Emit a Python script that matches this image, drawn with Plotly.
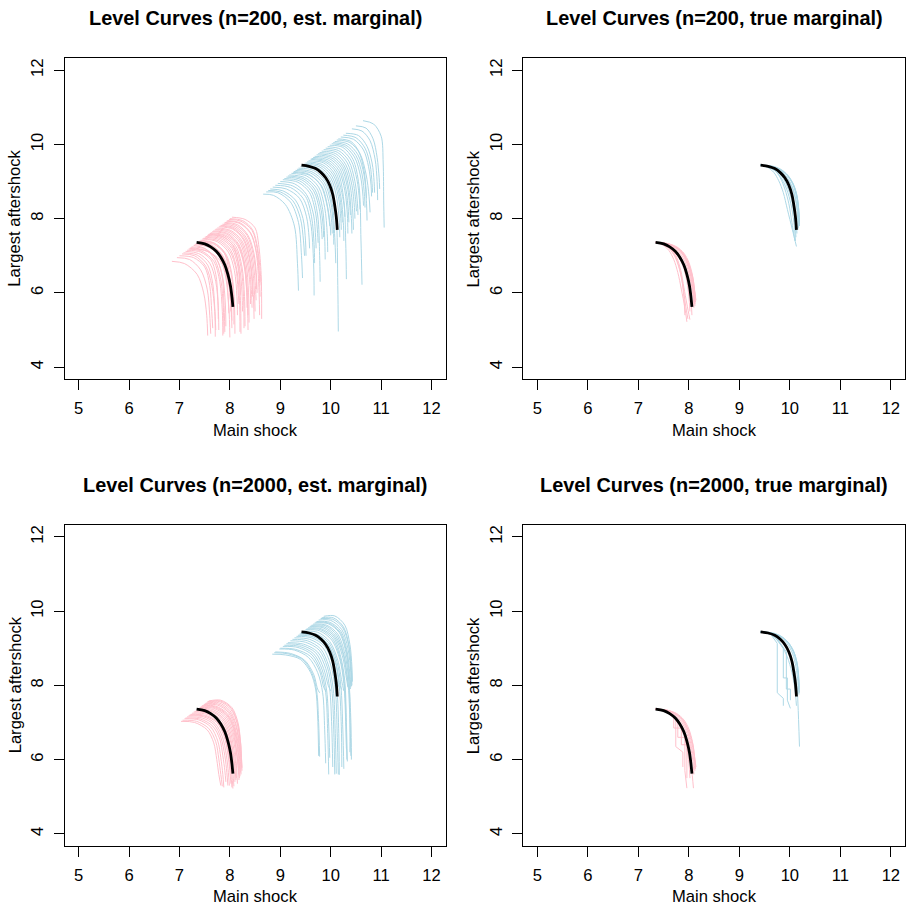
import plotly.graph_objects as go

# ---------------- data ----------------
TICKS_X = [5, 6, 7, 8, 9, 10, 11, 12]
TICKS_Y = [4, 6, 8, 10, 12]
TITLES = ["Level Curves (n=200, est. marginal)", "Level Curves (n=200, true marginal)",
          "Level Curves (n=2000, est. marginal)", "Level Curves (n=2000, true marginal)"]
XLABEL = "Main shock"
YLABEL = "Largest aftershock"

# true level curves (black)
TRUE_PINK_X = [7.34, 7.50, 7.62, 7.73, 7.82, 7.90, 7.96, 8.01, 8.04, 8.06]
TRUE_PINK_Y = [7.36, 7.32, 7.24, 7.12, 6.96, 6.75, 6.50, 6.20, 5.90, 5.62]
TRUE_BLUE_X = [9.42, 9.57, 9.70, 9.81, 9.90, 9.98, 10.04, 10.08, 10.11, 10.13]
TRUE_BLUE_Y = [9.44, 9.41, 9.35, 9.24, 9.10, 8.90, 8.65, 8.35, 8.05, 7.70]

# n=200, estimated marginal
PINK_A_X = [
    [6.85, 7.10, 7.35, 7.48, 7.54, 7.56], [6.95, 7.20, 7.42, 7.55, 7.60, 7.62],
    [7.05, 7.30, 7.52, 7.64, 7.70, 7.71], [7.12, 7.38, 7.60, 7.72, 7.77, 7.78],
    [7.18, 7.45, 7.68, 7.80, 7.85, 7.86], [7.24, 7.52, 7.74, 7.86, 7.91, 7.92],
    [7.30, 7.58, 7.80, 7.92, 7.98, 8.00], [7.35, 7.64, 7.86, 7.98, 8.03, 8.04],
    [7.40, 7.70, 7.92, 8.04, 8.09, 8.10], [7.45, 7.75, 7.97, 8.09, 8.14, 8.15],
    [7.50, 7.80, 8.02, 8.14, 8.19, 8.20], [7.55, 7.85, 8.07, 8.19, 8.24, 8.25],
    [7.60, 7.90, 8.12, 8.24, 8.29, 8.30], [7.65, 7.94, 8.16, 8.28, 8.33, 8.34],
    [7.70, 7.98, 8.20, 8.32, 8.37, 8.38], [7.75, 8.02, 8.24, 8.36, 8.42, 8.44],
    [7.80, 8.06, 8.28, 8.40, 8.46, 8.48], [7.85, 8.10, 8.32, 8.44, 8.50, 8.52],
    [7.90, 8.15, 8.36, 8.48, 8.53, 8.54], [7.95, 8.20, 8.42, 8.52, 8.57, 8.59],
    [8.00, 8.25, 8.45, 8.55, 8.60, 8.62], [8.04, 8.30, 8.50, 8.57, 8.62, 8.63],
    [7.20, 7.55, 7.80, 7.95, 8.02, 8.04], [7.42, 7.68, 7.88, 7.98, 8.02, 8.03],
    [7.62, 7.92, 8.15, 8.28, 8.34, 8.36], [7.28, 7.50, 7.70, 7.82, 7.87, 7.88],
    [7.00, 7.28, 7.50, 7.60, 7.64, 7.66], [7.15, 7.42, 7.62, 7.72, 7.76, 7.77],
    [7.22, 7.50, 7.72, 7.84, 7.88, 7.90], [7.32, 7.60, 7.82, 7.95, 8.00, 8.02],
    [7.38, 7.68, 7.90, 8.02, 8.07, 8.08], [7.47, 7.78, 8.00, 8.12, 8.16, 8.18],
    [7.52, 7.82, 8.04, 8.16, 8.21, 8.22], [7.57, 7.88, 8.10, 8.22, 8.27, 8.28],
    [7.67, 7.96, 8.18, 8.30, 8.35, 8.36], [7.72, 8.00, 8.22, 8.34, 8.40, 8.41],
    [7.78, 8.05, 8.26, 8.38, 8.44, 8.45], [7.82, 8.08, 8.30, 8.42, 8.48, 8.50],
    [7.88, 8.12, 8.34, 8.46, 8.52, 8.53], [7.93, 8.18, 8.40, 8.52, 8.58, 8.60],
    [7.98, 8.22, 8.44, 8.54, 8.58, 8.60], [7.08, 7.35, 7.56, 7.66, 7.70, 7.72],
    [7.36, 7.62, 7.82, 7.92, 7.96, 7.98], [7.58, 7.86, 8.06, 8.16, 8.20, 8.21],
]
PINK_A_Y = [
    [6.85, 6.79, 6.50, 6.00, 5.40, 4.85], [6.95, 6.90, 6.62, 6.10, 5.40, 4.90],
    [7.05, 7.00, 6.72, 6.20, 5.50, 4.82], [7.12, 7.06, 6.80, 6.30, 5.60, 5.00],
    [7.18, 7.12, 6.85, 6.30, 5.50, 4.85], [7.24, 7.18, 6.90, 6.40, 5.70, 5.10],
    [7.30, 7.23, 6.95, 6.40, 5.60, 4.80], [7.35, 7.28, 7.00, 6.50, 5.80, 5.25],
    [7.40, 7.33, 7.05, 6.50, 5.70, 4.90], [7.45, 7.38, 7.10, 6.60, 5.90, 5.40],
    [7.50, 7.43, 7.15, 6.60, 5.80, 4.95], [7.55, 7.48, 7.20, 6.70, 6.00, 5.50],
    [7.60, 7.53, 7.25, 6.70, 5.90, 5.10], [7.65, 7.58, 7.30, 6.80, 6.10, 5.60],
    [7.70, 7.63, 7.35, 6.80, 6.00, 5.20], [7.75, 7.68, 7.40, 6.90, 6.20, 5.60],
    [7.80, 7.74, 7.45, 6.90, 6.10, 5.30], [7.85, 7.79, 7.50, 7.00, 6.30, 5.80],
    [7.90, 7.84, 7.55, 7.05, 6.40, 6.00], [7.95, 7.89, 7.60, 7.10, 6.30, 5.40],
    [8.00, 7.95, 7.70, 7.20, 6.60, 6.20], [8.04, 7.98, 7.75, 7.30, 6.50, 5.30],
    [7.20, 7.12, 6.88, 6.40, 5.70, 5.05], [7.42, 7.35, 7.10, 6.60, 5.90, 5.35],
    [7.62, 7.55, 7.28, 6.75, 5.95, 5.00], [7.28, 7.20, 6.90, 6.35, 5.60, 4.90],
    [7.00, 6.95, 6.70, 6.20, 5.50, 5.05], [7.15, 7.10, 6.90, 6.50, 5.90, 5.30],
    [7.22, 7.15, 6.95, 6.50, 5.80, 4.95], [7.32, 7.26, 7.05, 6.60, 6.00, 5.50],
    [7.38, 7.31, 7.05, 6.55, 5.90, 5.15], [7.47, 7.40, 7.12, 6.65, 6.10, 5.70],
    [7.52, 7.46, 7.20, 6.70, 5.80, 4.90], [7.57, 7.50, 7.22, 6.70, 5.90, 5.05],
    [7.67, 7.60, 7.30, 6.75, 6.00, 5.40], [7.72, 7.66, 7.38, 6.85, 6.20, 5.70],
    [7.78, 7.72, 7.45, 6.95, 6.30, 5.90], [7.82, 7.76, 7.48, 6.95, 6.20, 5.50],
    [7.88, 7.82, 7.55, 7.05, 6.45, 6.10], [7.93, 7.88, 7.62, 7.15, 6.50, 5.90],
    [7.98, 7.93, 7.68, 7.20, 6.60, 6.30], [7.08, 7.02, 6.75, 6.25, 5.60, 5.00],
    [7.36, 7.30, 7.05, 6.60, 6.00, 5.45], [7.58, 7.52, 7.28, 6.85, 6.30, 5.95],
]
BLUE_A_X = [
    [8.66, 8.86, 9.10, 9.28, 9.34, 9.36], [8.80, 9.05, 9.30, 9.45, 9.50, 9.51],
    [8.90, 9.20, 9.45, 9.60, 9.66, 9.67], [9.00, 9.28, 9.52, 9.66, 9.70, 9.71],
    [9.08, 9.38, 9.62, 9.74, 9.78, 9.79], [9.15, 9.45, 9.68, 9.80, 9.85, 9.86],
    [9.22, 9.52, 9.76, 9.88, 9.93, 9.94], [9.30, 9.60, 9.84, 9.97, 10.02, 10.03],
    [9.36, 9.66, 9.90, 10.03, 10.08, 10.10], [9.44, 9.74, 9.98, 10.10, 10.14, 10.15],
    [9.50, 9.80, 10.02, 10.15, 10.20, 10.21], [9.56, 9.86, 10.08, 10.20, 10.25, 10.26],
    [9.62, 9.92, 10.14, 10.26, 10.30, 10.31], [9.68, 9.97, 10.18, 10.30, 10.35, 10.36],
    [9.75, 10.03, 10.24, 10.36, 10.41, 10.42], [9.82, 10.10, 10.30, 10.42, 10.47, 10.48],
    [9.90, 10.16, 10.36, 10.48, 10.53, 10.54], [9.98, 10.24, 10.44, 10.56, 10.60, 10.62],
    [10.05, 10.30, 10.50, 10.62, 10.67, 10.68], [10.12, 10.38, 10.58, 10.70, 10.76, 10.78],
    [10.20, 10.45, 10.65, 10.75, 10.80, 10.81], [10.30, 10.55, 10.72, 10.82, 10.86, 10.87],
    [10.42, 10.62, 10.78, 10.88, 10.92, 10.93], [10.64, 10.85, 11.00, 11.04, 11.05, 11.06],
    [9.25, 9.58, 9.82, 9.94, 9.99, 10.00], [9.60, 9.90, 10.10, 10.22, 10.27, 10.28],
    [10.15, 10.40, 10.56, 10.66, 10.70, 10.71], [8.72, 8.95, 9.20, 9.36, 9.42, 9.44],
    [8.76, 9.00, 9.25, 9.40, 9.46, 9.48], [8.85, 9.12, 9.38, 9.52, 9.57, 9.58],
    [8.95, 9.25, 9.50, 9.62, 9.67, 9.68], [9.05, 9.35, 9.58, 9.70, 9.74, 9.75],
    [9.12, 9.42, 9.66, 9.78, 9.82, 9.83], [9.18, 9.48, 9.72, 9.84, 9.88, 9.89],
    [9.27, 9.56, 9.80, 9.92, 9.97, 9.98], [9.33, 9.63, 9.87, 10.00, 10.05, 10.06],
    [9.40, 9.70, 9.94, 10.06, 10.11, 10.12], [9.47, 9.77, 10.00, 10.12, 10.17, 10.18],
    [9.53, 9.83, 10.05, 10.17, 10.22, 10.23], [9.65, 9.95, 10.16, 10.28, 10.33, 10.34],
    [9.72, 10.00, 10.21, 10.33, 10.38, 10.39], [9.78, 10.06, 10.27, 10.39, 10.44, 10.45],
    [9.86, 10.13, 10.33, 10.45, 10.50, 10.51], [9.94, 10.20, 10.40, 10.52, 10.57, 10.58],
    [10.02, 10.27, 10.47, 10.59, 10.64, 10.65], [10.08, 10.34, 10.54, 10.66, 10.71, 10.72],
    [10.25, 10.50, 10.68, 10.78, 10.82, 10.83], [10.50, 10.70, 10.84, 10.92, 10.96, 10.97],
]
BLUE_A_Y = [
    [8.66, 8.63, 8.38, 7.80, 6.80, 6.06], [8.80, 8.75, 8.50, 8.00, 7.40, 7.00],
    [8.90, 8.84, 8.55, 7.90, 6.80, 5.93], [9.00, 8.94, 8.65, 8.10, 7.50, 7.20],
    [9.08, 9.02, 8.72, 8.10, 7.00, 6.30], [9.15, 9.08, 8.80, 8.30, 7.80, 7.50],
    [9.22, 9.15, 8.85, 8.30, 7.60, 7.10], [9.30, 9.23, 8.95, 8.40, 7.90, 7.60],
    [9.36, 9.30, 9.00, 8.40, 7.50, 6.80], [9.44, 9.37, 9.05, 8.20, 6.20, 4.96],
    [9.50, 9.43, 9.15, 8.60, 8.00, 7.70], [9.56, 9.50, 9.20, 8.60, 7.90, 7.40],
    [9.62, 9.55, 9.25, 8.50, 7.20, 6.37], [9.68, 9.62, 9.35, 8.80, 8.20, 7.90],
    [9.75, 9.68, 9.40, 8.80, 8.00, 7.60], [9.82, 9.75, 9.45, 8.90, 8.30, 8.00],
    [9.90, 9.83, 9.55, 9.00, 8.40, 8.10], [9.98, 9.92, 9.60, 8.90, 7.40, 6.22],
    [10.05, 9.98, 9.70, 9.20, 8.60, 8.30], [10.12, 10.05, 9.75, 9.20, 8.60, 8.17],
    [10.20, 10.14, 9.85, 9.40, 8.90, 8.60], [10.30, 10.24, 9.95, 9.50, 9.00, 8.70],
    [10.42, 10.36, 10.10, 9.60, 9.00, 8.50], [10.64, 10.55, 10.22, 9.50, 8.50, 7.76],
    [9.25, 9.17, 8.88, 8.30, 7.80, 7.55], [9.60, 9.52, 9.25, 8.70, 8.30, 8.05],
    [10.15, 10.08, 9.80, 9.30, 8.80, 8.55], [8.72, 8.70, 8.45, 7.90, 7.00, 6.40],
    [8.76, 8.72, 8.48, 8.00, 7.40, 7.00], [8.85, 8.80, 8.55, 8.05, 7.50, 7.20],
    [8.95, 8.88, 8.60, 8.05, 7.30, 6.80], [9.05, 8.98, 8.70, 8.15, 7.60, 7.35],
    [9.12, 9.05, 8.75, 8.20, 7.70, 7.45], [9.18, 9.11, 8.82, 8.25, 7.50, 6.90],
    [9.27, 9.20, 8.90, 8.40, 7.95, 7.80], [9.33, 9.26, 8.98, 8.45, 7.80, 7.30],
    [9.40, 9.33, 9.02, 8.50, 8.00, 7.80], [9.47, 9.40, 9.10, 8.55, 7.90, 7.50],
    [9.53, 9.46, 9.18, 8.65, 8.10, 7.90], [9.65, 9.58, 9.30, 8.75, 8.10, 7.60],
    [9.72, 9.65, 9.38, 8.85, 8.30, 8.10], [9.78, 9.72, 9.42, 8.85, 8.10, 7.70],
    [9.86, 9.79, 9.50, 8.95, 8.40, 8.20], [9.94, 9.87, 9.58, 9.05, 8.50, 8.25],
    [10.02, 9.95, 9.66, 9.15, 8.60, 8.35], [10.08, 10.01, 9.72, 9.18, 8.40, 7.95],
    [10.25, 10.18, 9.90, 9.45, 8.95, 8.70], [10.50, 10.44, 10.15, 9.65, 9.10, 8.80],
]

# n=200, true marginal
PINK_B_X = [
    [7.34, 7.55, 7.72, 7.86, 7.96, 8.03, 8.08, 8.10], [7.34, 7.56, 7.74, 7.88, 7.98, 8.05, 8.10, 8.12],
    [7.36, 7.58, 7.76, 7.90, 8.00, 8.08, 8.12, 8.14], [7.34, 7.52, 7.68, 7.80, 7.90, 7.96, 8.00, 8.02],
    [7.34, 7.50, 7.62, 7.72, 7.80, 7.86, 7.90, 7.92], [7.34, 7.48, 7.60, 7.70, 7.78, 7.85, 7.92, 7.96],
    [7.34, 7.54, 7.70, 7.83, 7.93, 8.00, 8.04, 8.06], [7.34, 7.53, 7.66, 7.76, 7.84, 7.90, 7.96, 8.02],
    [7.35, 7.57, 7.75, 7.89, 7.99, 8.06, 8.11, 8.13], [7.34, 7.55, 7.73, 7.87, 7.97, 8.04, 8.08, 8.10],
    [7.34, 7.56, 7.75, 7.89, 7.99, 8.06, 8.10, 8.12], [7.34, 7.51, 7.64, 7.74, 7.82, 7.88, 7.93, 7.98],
    [7.34, 7.57, 7.76, 7.90, 8.00, 8.07, 8.11, 8.13],
]
PINK_B_Y = [
    [7.36, 7.31, 7.20, 7.00, 6.70, 6.35, 5.95, 5.60], [7.36, 7.32, 7.21, 7.02, 6.72, 6.35, 5.95, 5.70],
    [7.36, 7.33, 7.22, 7.03, 6.75, 6.40, 6.00, 5.80], [7.36, 7.30, 7.16, 6.95, 6.65, 6.30, 5.90, 5.50],
    [7.36, 7.30, 7.18, 6.98, 6.70, 6.35, 5.90, 5.40], [7.36, 7.29, 7.15, 6.90, 6.55, 6.10, 5.60, 5.22],
    [7.36, 7.31, 7.19, 6.98, 6.68, 6.30, 5.85, 5.40], [7.36, 7.31, 7.18, 6.95, 6.60, 6.15, 5.70, 5.28],
    [7.36, 7.32, 7.22, 7.05, 6.78, 6.45, 6.05, 5.75], [7.36, 7.33, 7.23, 7.06, 6.80, 6.45, 6.05, 5.80],
    [7.36, 7.33, 7.23, 7.05, 6.78, 6.42, 6.00, 5.65], [7.36, 7.30, 7.17, 6.96, 6.62, 6.20, 5.70, 5.30],
    [7.36, 7.33, 7.24, 7.07, 6.82, 6.48, 6.08, 5.85],
]
BLUE_B_X = [
    [9.42, 9.62, 9.80, 9.94, 10.05, 10.12, 10.16, 10.17], [9.43, 9.64, 9.82, 9.97, 10.08, 10.15, 10.18, 10.19],
    [9.42, 9.60, 9.77, 9.90, 10.00, 10.08, 10.12, 10.14], [9.42, 9.58, 9.72, 9.84, 9.94, 10.02, 10.08, 10.11],
    [9.42, 9.56, 9.68, 9.78, 9.87, 9.95, 10.05, 10.13], [9.42, 9.63, 9.81, 9.95, 10.06, 10.13, 10.17, 10.18],
    [9.42, 9.57, 9.70, 9.81, 9.90, 9.98, 10.04, 10.10], [9.42, 9.61, 9.78, 9.92, 10.03, 10.11, 10.15, 10.16],
    [9.42, 9.62, 9.81, 9.96, 10.07, 10.14, 10.18, 10.19], [9.42, 9.59, 9.74, 9.87, 9.97, 10.05, 10.10, 10.12],
    [9.42, 9.64, 9.82, 9.96, 10.07, 10.14, 10.17, 10.18],
]
BLUE_B_Y = [
    [9.44, 9.40, 9.30, 9.12, 8.85, 8.50, 8.10, 7.75], [9.44, 9.41, 9.31, 9.14, 8.88, 8.55, 8.15, 7.85],
    [9.44, 9.40, 9.28, 9.08, 8.80, 8.45, 8.00, 7.60], [9.44, 9.39, 9.27, 9.07, 8.78, 8.40, 7.90, 7.40],
    [9.44, 9.38, 9.25, 9.02, 8.70, 8.25, 7.70, 7.25], [9.44, 9.41, 9.32, 9.16, 8.92, 8.60, 8.20, 7.90],
    [9.44, 9.40, 9.30, 9.10, 8.80, 8.40, 7.90, 7.40], [9.44, 9.41, 9.31, 9.13, 8.87, 8.52, 8.10, 7.70],
    [9.44, 9.41, 9.32, 9.15, 8.90, 8.58, 8.18, 7.80], [9.44, 9.40, 9.28, 9.08, 8.79, 8.42, 7.95, 7.50],
    [9.44, 9.42, 9.33, 9.17, 8.93, 8.62, 8.22, 7.95],
]

# n=2000, estimated marginal
PINK_C_X = [
    [7.03, 7.30, 7.55, 7.68, 7.74, 7.78, 7.82], [7.10, 7.38, 7.62, 7.76, 7.82, 7.86, 7.88],
    [7.15, 7.45, 7.68, 7.82, 7.90, 7.94, 7.96], [7.20, 7.50, 7.74, 7.88, 7.96, 8.00, 8.02],
    [7.25, 7.55, 7.78, 7.92, 8.00, 8.04, 8.06], [7.30, 7.60, 7.83, 7.97, 8.05, 8.09, 8.10],
    [7.35, 7.64, 7.87, 8.01, 8.08, 8.12, 8.13], [7.40, 7.68, 7.91, 8.05, 8.12, 8.16, 8.17],
    [7.45, 7.72, 7.95, 8.09, 8.16, 8.19, 8.20], [7.50, 7.76, 7.98, 8.12, 8.18, 8.21, 8.22],
    [7.55, 7.80, 8.02, 8.15, 8.20, 8.22, 8.23], [7.58, 7.82, 8.04, 8.16, 8.21, 8.23, 8.24],
    [7.28, 7.56, 7.80, 7.95, 8.02, 8.06, 8.08], [7.42, 7.70, 7.93, 8.07, 8.13, 8.17, 8.18],
    [7.12, 7.42, 7.66, 7.80, 7.86, 7.90, 7.92], [7.48, 7.75, 7.97, 8.10, 8.17, 8.20, 8.21],
    [7.38, 7.66, 7.89, 8.03, 8.10, 8.13, 8.15], [7.52, 7.78, 8.00, 8.13, 8.19, 8.22, 8.22],
    [7.06, 7.34, 7.58, 7.72, 7.78, 7.82, 7.85], [7.18, 7.48, 7.71, 7.85, 7.93, 7.97, 7.99],
    [7.33, 7.62, 7.85, 7.99, 8.06, 8.10, 8.12], [7.44, 7.71, 7.94, 8.08, 8.15, 8.18, 8.19],
    [7.56, 7.81, 8.03, 8.15, 8.21, 8.23, 8.24], [7.22, 7.52, 7.76, 7.90, 7.98, 8.02, 8.04],
]
PINK_C_Y = [
    [7.03, 7.00, 6.80, 6.45, 6.00, 5.60, 5.30], [7.10, 7.07, 6.88, 6.50, 6.05, 5.60, 5.25],
    [7.15, 7.12, 6.95, 6.60, 6.10, 5.65, 5.30], [7.20, 7.17, 7.00, 6.65, 6.15, 5.70, 5.35],
    [7.25, 7.22, 7.03, 6.65, 6.10, 5.60, 5.22], [7.30, 7.27, 7.07, 6.70, 6.20, 5.75, 5.40],
    [7.35, 7.32, 7.12, 6.75, 6.25, 5.80, 5.50], [7.40, 7.38, 7.18, 6.80, 6.30, 5.85, 5.60],
    [7.45, 7.44, 7.24, 6.85, 6.30, 5.85, 5.55], [7.50, 7.50, 7.30, 6.90, 6.40, 5.95, 5.75],
    [7.55, 7.56, 7.35, 6.95, 6.45, 6.00, 5.80], [7.58, 7.60, 7.40, 7.00, 6.50, 6.05, 5.70],
    [7.28, 7.25, 7.05, 6.68, 6.15, 5.65, 5.28], [7.42, 7.40, 7.20, 6.82, 6.25, 5.75, 5.45],
    [7.12, 7.09, 6.90, 6.55, 6.10, 5.70, 5.40], [7.48, 7.47, 7.27, 6.88, 6.35, 5.90, 5.65],
    [7.38, 7.35, 7.15, 6.78, 6.30, 5.85, 5.35], [7.52, 7.53, 7.32, 6.92, 6.40, 5.95, 5.60],
    [7.06, 7.03, 6.84, 6.48, 6.02, 5.60, 5.28], [7.18, 7.15, 6.97, 6.62, 6.12, 5.65, 5.30],
    [7.33, 7.30, 7.10, 6.72, 6.22, 5.78, 5.45], [7.44, 7.42, 7.22, 6.84, 6.28, 5.80, 5.50],
    [7.56, 7.58, 7.38, 6.98, 6.48, 6.02, 5.78], [7.22, 7.19, 7.01, 6.64, 6.12, 5.62, 5.25],
]
BLUE_C_X = [
    [8.84, 9.10, 9.40, 9.60, 9.70, 9.74, 9.76], [8.90, 9.20, 9.48, 9.66, 9.74, 9.78],
    [8.98, 9.28, 9.56, 9.74, 9.84, 9.88, 9.90], [9.05, 9.35, 9.63, 9.80, 9.90, 9.94, 9.96],
    [9.12, 9.42, 9.70, 9.86, 9.95, 10.00], [9.20, 9.50, 9.77, 9.93, 10.02, 10.06, 10.08],
    [9.28, 9.58, 9.84, 10.00, 10.09, 10.13, 10.15], [9.35, 9.65, 9.90, 10.06, 10.14, 10.18],
    [9.42, 9.72, 9.96, 10.12, 10.20, 10.24, 10.26], [9.50, 9.78, 10.02, 10.18, 10.26, 10.30, 10.32],
    [9.58, 9.85, 10.08, 10.23, 10.31, 10.34], [9.65, 9.92, 10.14, 10.28, 10.36, 10.40, 10.41],
    [9.72, 9.98, 10.20, 10.32, 10.38, 10.40], [9.80, 10.04, 10.24, 10.36, 10.41, 10.42],
    [9.86, 10.08, 10.28, 10.38, 10.42, 10.43], [9.00, 9.30, 9.60, 9.78, 9.86, 9.90],
    [9.15, 9.46, 9.74, 9.90, 9.98, 10.02, 10.04], [9.32, 9.62, 9.88, 10.04, 10.12, 10.16, 10.17],
    [9.46, 9.74, 9.98, 10.14, 10.22, 10.26], [9.55, 9.82, 10.06, 10.20, 10.28, 10.31, 10.33],
    [9.68, 9.95, 10.17, 10.30, 10.36, 10.38, 10.38], [9.76, 10.00, 10.22, 10.34, 10.40, 10.41],
    [8.88, 9.15, 9.44, 9.63, 9.72, 9.76, 9.78], [9.08, 9.38, 9.66, 9.83, 9.92, 9.96, 9.98],
    [9.24, 9.54, 9.80, 9.96, 10.05, 10.09, 10.11], [9.38, 9.68, 9.93, 10.09, 10.17, 10.21, 10.22],
    [9.52, 9.80, 10.04, 10.19, 10.27, 10.30, 10.31], [9.62, 9.90, 10.12, 10.26, 10.34, 10.38, 10.40],
    [9.70, 9.96, 10.18, 10.31, 10.37, 10.39], [9.82, 10.05, 10.25, 10.36, 10.40, 10.41],
    [9.40, 9.70, 9.94, 10.10, 10.18, 10.22], [9.60, 9.88, 10.10, 10.25, 10.33, 10.36],
]
BLUE_C_Y = [
    [8.84, 8.82, 8.70, 8.35, 7.90, 7.20, 6.10], [8.90, 8.86, 8.68, 8.30, 7.90, 7.80],
    [8.98, 8.95, 8.75, 8.35, 7.80, 6.80, 5.90], [9.05, 9.02, 8.82, 8.40, 7.80, 6.70, 5.60],
    [9.12, 9.08, 8.88, 8.45, 8.00, 7.85], [9.20, 9.16, 8.95, 8.50, 7.90, 6.80, 5.60],
    [9.28, 9.24, 9.02, 8.55, 7.90, 6.60, 5.60], [9.35, 9.31, 9.08, 8.60, 8.05, 7.90],
    [9.42, 9.38, 9.15, 8.65, 8.00, 6.80, 5.75], [9.50, 9.47, 9.22, 8.70, 8.05, 6.90, 6.00],
    [9.58, 9.55, 9.30, 8.80, 8.20, 7.95], [9.65, 9.62, 9.38, 8.85, 8.10, 7.00, 6.00],
    [9.72, 9.70, 9.46, 8.95, 8.30, 7.95], [9.80, 9.78, 9.55, 9.05, 8.40, 8.00],
    [9.86, 9.87, 9.62, 9.10, 8.50, 8.10], [9.00, 8.97, 8.78, 8.38, 7.95, 7.85],
    [9.15, 9.11, 8.90, 8.46, 7.90, 6.90, 5.80], [9.32, 9.28, 9.05, 8.58, 7.95, 6.70, 5.59],
    [9.46, 9.43, 9.18, 8.68, 8.10, 7.85], [9.55, 9.52, 9.28, 8.76, 8.10, 7.00, 5.95],
    [9.68, 9.66, 9.42, 8.90, 8.20, 7.10, 6.20], [9.76, 9.75, 9.50, 9.00, 8.35, 7.98],
    [8.88, 8.85, 8.70, 8.32, 7.85, 7.00, 6.08], [9.08, 9.05, 8.85, 8.42, 7.85, 6.90, 6.05],
    [9.24, 9.20, 8.98, 8.52, 7.90, 6.70, 5.62], [9.38, 9.34, 9.12, 8.62, 7.95, 6.90, 5.80],
    [9.52, 9.50, 9.25, 8.72, 8.05, 7.20, 6.30], [9.62, 9.60, 9.35, 8.82, 8.10, 7.10, 6.10],
    [9.70, 9.68, 9.44, 8.92, 8.25, 7.90], [9.82, 9.82, 9.58, 9.08, 8.45, 8.05],
    [9.40, 9.36, 9.12, 8.62, 8.02, 7.88], [9.60, 9.57, 9.32, 8.82, 8.15, 7.92],
]

# n=2000, true marginal
PINK_D_X = [
    [7.34, 7.55, 7.72, 7.86, 7.96, 8.03, 8.08, 8.10], [7.34, 7.57, 7.75, 7.89, 7.99, 8.06, 8.11, 8.13],
    [7.35, 7.58, 7.76, 7.90, 8.00, 8.08, 8.12, 8.14], [7.34, 7.52, 7.68, 7.80, 7.90, 7.96, 8.00, 8.02],
    [7.34, 7.54, 7.70, 7.83, 7.93, 8.00, 8.05, 8.09], [7.34, 7.56, 7.74, 7.88, 7.98, 8.05, 8.10, 8.12],
    [7.34, 7.57, 7.76, 7.90, 8.00, 8.07, 8.11, 8.13],
]
PINK_D_Y = [
    [7.36, 7.31, 7.20, 7.00, 6.70, 6.35, 5.95, 5.60], [7.36, 7.32, 7.22, 7.04, 6.76, 6.42, 6.02, 5.75],
    [7.36, 7.33, 7.22, 7.03, 6.75, 6.40, 6.00, 5.80], [7.36, 7.30, 7.16, 6.95, 6.65, 6.30, 5.90, 5.50],
    [7.36, 7.31, 7.19, 6.98, 6.68, 6.30, 5.80, 5.23], [7.36, 7.32, 7.21, 7.02, 6.72, 6.35, 5.95, 5.70],
    [7.36, 7.33, 7.24, 7.07, 6.82, 6.48, 6.08, 5.85],
]
PINK_D_STEP_X = [[7.34, 7.55, 7.70, 7.70, 7.85, 7.85, 7.96, 7.96],
                 [7.34, 7.60, 7.78, 7.78, 7.92, 7.92, 7.96],
                 [7.34, 7.58, 7.74, 7.74, 7.88, 7.88]]
PINK_D_STEP_Y = [[7.36, 7.30, 7.12, 6.85, 6.85, 6.40, 6.40, 5.50],
                 [7.36, 7.31, 7.05, 6.60, 6.60, 5.70, 5.23],
                 [7.36, 7.30, 7.08, 6.35, 6.20, 5.80]]
BLUE_D_X = [
    [9.42, 9.62, 9.80, 9.94, 10.05, 10.12, 10.16, 10.18], [9.43, 9.64, 9.82, 9.97, 10.08, 10.15, 10.18, 10.19],
    [9.42, 9.60, 9.77, 9.90, 10.01, 10.09, 10.14, 10.16, 10.19], [9.42, 9.58, 9.72, 9.84, 9.95, 10.04, 10.10, 10.13],
    [9.42, 9.63, 9.81, 9.95, 10.06, 10.13, 10.17, 10.18], [9.42, 9.64, 9.82, 9.96, 10.07, 10.14, 10.17, 10.18],
]
BLUE_D_Y = [
    [9.44, 9.41, 9.31, 9.13, 8.87, 8.50, 8.10, 7.75], [9.44, 9.41, 9.32, 9.15, 8.90, 8.55, 8.15, 7.80],
    [9.44, 9.40, 9.29, 9.10, 8.82, 8.45, 8.00, 7.50, 6.35], [9.44, 9.39, 9.27, 9.06, 8.76, 8.35, 7.90, 7.45],
    [9.44, 9.41, 9.32, 9.16, 8.92, 8.60, 8.20, 7.90], [9.44, 9.42, 9.33, 9.17, 8.93, 8.62, 8.22, 7.95],
]
BLUE_D_STEP_X = [[9.42, 9.62, 9.75, 9.75, 9.87, 9.87],
                 [9.42, 9.66, 9.87, 9.87, 9.95, 9.95, 10.01],
                 [9.42, 9.70, 9.93, 9.93, 10.01, 10.01]]
BLUE_D_STEP_Y = [[9.44, 9.38, 9.13, 7.80, 7.65, 7.45],
                 [9.44, 9.37, 9.00, 8.20, 8.20, 7.60, 7.38],
                 [9.44, 9.36, 8.90, 7.90, 7.90, 7.60]]

PINK = "#FFC0CB"
LIGHTBLUE = "#ADD8E6"

# ---------------- figure ----------------
W = H = 906
FONT = "Liberation Sans, Arial, Helvetica, sans-serif"
fig = go.Figure()

PANEL_X = [(64.5, 445.7), (523.3, 905.0), (64.5, 445.7), (523.3, 905.0)]
PANEL_Y = [(58.3, 379.0), (58.3, 379.0), (525.0, 845.7), (525.0, 845.7)]


def add_group(xs_list, ys_list, color, idx, width=1.0, shape="spline"):
    X, Y = [], []
    for xs, ys in zip(xs_list, ys_list):
        X += list(xs) + [None]
        Y += list(ys) + [None]
    ax = "" if idx == 0 else str(idx + 1)
    line = dict(color=color, width=width, shape=shape)
    if shape == "spline":
        line["smoothing"] = 0.9
    fig.add_trace(go.Scatter(x=X, y=Y, mode="lines", line=line,
                             xaxis="x" + ax, yaxis="y" + ax,
                             hoverinfo="skip", showlegend=False))


groups = [
    [(PINK_A_X, PINK_A_Y, PINK), (BLUE_A_X, BLUE_A_Y, LIGHTBLUE)],
    [(PINK_B_X, PINK_B_Y, PINK), (BLUE_B_X, BLUE_B_Y, LIGHTBLUE)],
    [(PINK_C_X, PINK_C_Y, PINK), (BLUE_C_X, BLUE_C_Y, LIGHTBLUE)],
    [(PINK_D_X, PINK_D_Y, PINK), (BLUE_D_X, BLUE_D_Y, LIGHTBLUE)],
]
for i, gl in enumerate(groups):
    for xs, ys, col in gl:
        add_group(xs, ys, col, i)
    if i == 3:
        add_group(PINK_D_STEP_X, PINK_D_STEP_Y, PINK, i, shape="linear")
        add_group(BLUE_D_STEP_X, BLUE_D_STEP_Y, LIGHTBLUE, i, shape="linear")
    add_group([TRUE_PINK_X, TRUE_BLUE_X], [TRUE_PINK_Y, TRUE_BLUE_Y], "black", i, width=2.8)

annotations = []
for i in range(4):
    ax = "" if i == 0 else str(i + 1)
    x0, x1 = PANEL_X[i]
    y0, y1 = PANEL_Y[i]
    common = dict(showline=True, mirror=True, linecolor="black", linewidth=1,
                  showgrid=False, zeroline=False, ticks="outside", ticklen=10,
                  tickcolor="black", tickwidth=1,
                  tickfont=dict(family=FONT, size=16.6, color="black"))
    fig.layout["xaxis" + ax] = dict(domain=[x0 / W, x1 / W], range=[4.72, 12.28],
                                    tickvals=TICKS_X, anchor="y" + ax,
                                    ticklabelstandoff=4, **common)
    fig.layout["yaxis" + ax] = dict(domain=[1 - y1 / H, 1 - y0 / H], range=[3.68, 12.32],
                                    tickvals=TICKS_Y, anchor="x" + ax, tickangle=-90,
                                    ticklabelstandoff=4, **common)
    cx = (x0 + x1) / 2 / W
    annotations.append(dict(text="<b>%s</b>" % TITLES[i], x=cx, y=1 - (y0 - 40) / H,
                            xref="paper", yref="paper", showarrow=False,
                            xanchor="center", yanchor="middle",
                            font=dict(family=FONT, size=19.9, color="black")))
    annotations.append(dict(text=XLABEL, x=cx, y=1 - (y1 + 51) / H,
                            xref="paper", yref="paper", showarrow=False,
                            xanchor="center", yanchor="middle",
                            font=dict(family=FONT, size=16.6, color="black")))
    annotations.append(dict(text=YLABEL, x=(x0 - 49.5) / W, y=1 - (y0 + y1) / 2 / H,
                            xref="paper", yref="paper", showarrow=False, textangle=-90,
                            xanchor="center", yanchor="middle",
                            font=dict(family=FONT, size=16.6, color="black")))

fig.update_layout(width=W, height=H, margin=dict(l=0, r=0, t=0, b=0),
                  paper_bgcolor="white", plot_bgcolor="white",
                  annotations=annotations, showlegend=False)

fig.write_html("out.html", config={"displayModeBar": False, "staticPlot": True},
               post_script="document.body.style.margin='0';document.body.style.overflow='hidden';")
